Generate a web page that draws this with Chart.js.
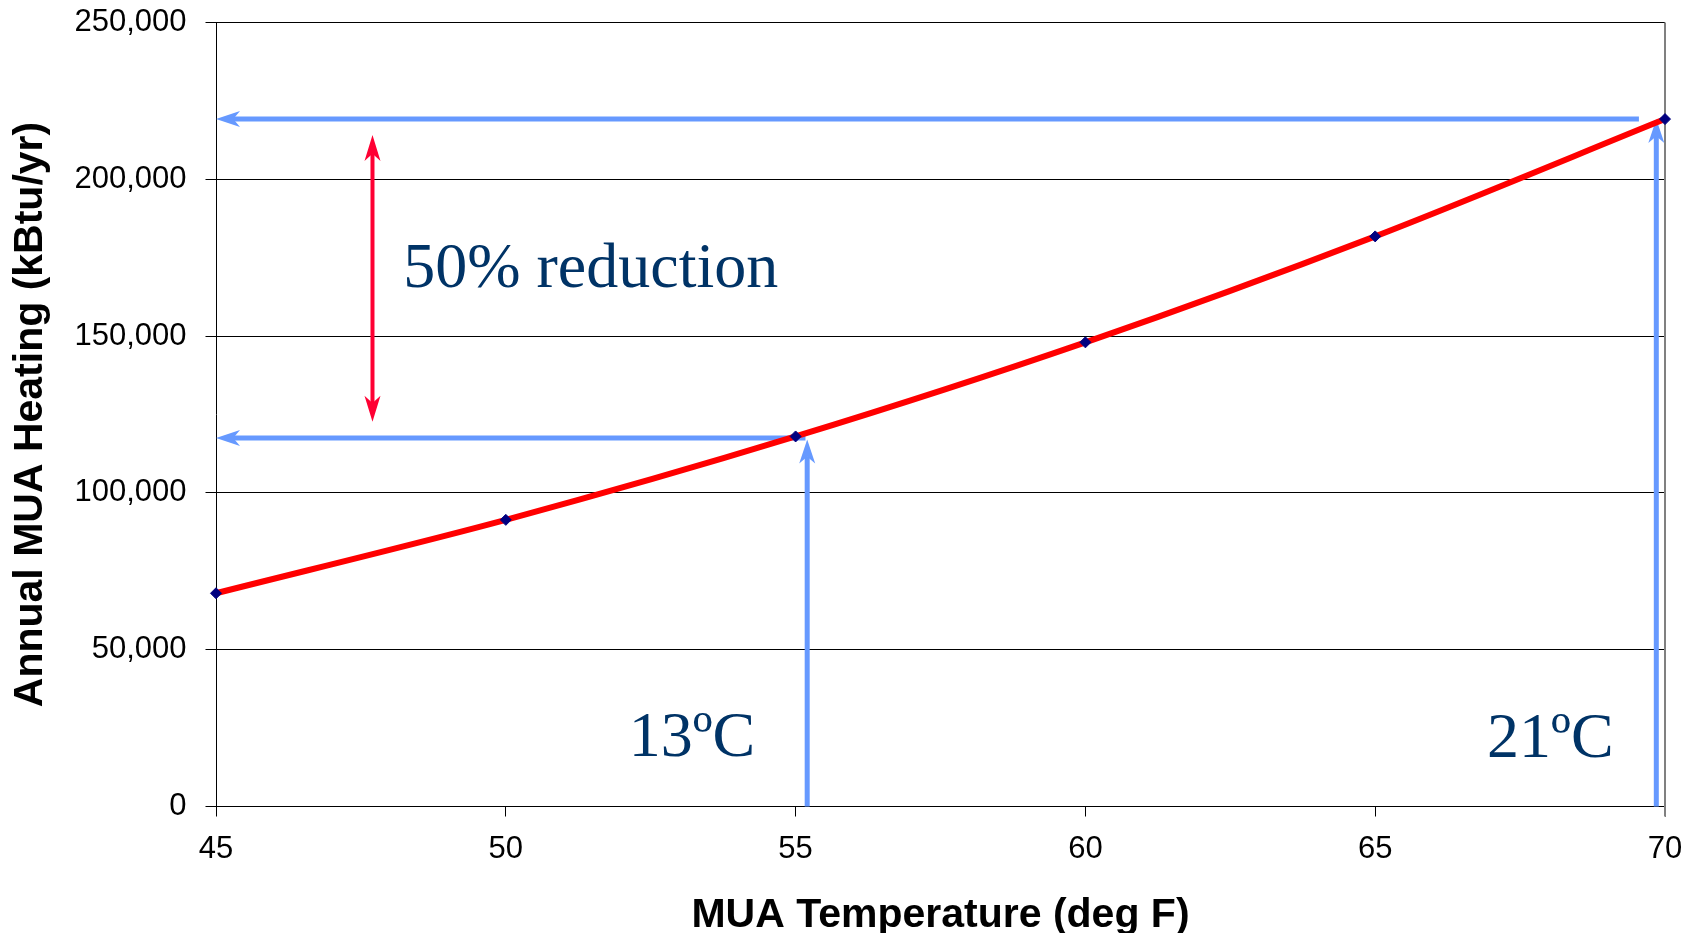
<!DOCTYPE html>
<html>
<head>
<meta charset="utf-8">
<title>Annual MUA Heating vs MUA Temperature</title>
<script src="https://cdn.jsdelivr.net/npm/chart.js@4.4.1/dist/chart.umd.min.js"></script>
<style>
  html, body { margin: 0; padding: 0; background: #ffffff; }
  #wrap { width: 1696px; height: 933px; }
</style>
</head>
<body>
<div id="wrap"><canvas id="chart" width="1696" height="933"></canvas></div>
<script>
// MUA supply temperature (deg F) and resulting annual heating (kBtu/yr)
const temperatures = [45, 50, 55, 60, 65, 70];
const annualHeating = [68000, 91400, 118000, 148000, 181800, 219200];

// axis ticks
const xTickValues = [45, 50, 55, 60, 65, 70];
const yTickValues = [0, 50000, 100000, 150000, 200000, 250000];

// guide arrows in axis units: [x1, y1, x2, y2], head drawn at (x2, y2)
const blueArrows = [
  [69.55, 219200, 45, 219200],
  [55.17, 117500, 45, 117500],
  [55.2, 0, 55.2, 117000],
  [69.85, 0, 69.85, 219200]
];
// double-headed arrow marking the reduction
const reductionArrow = [47.7, 122700, 47.7, 214100];

// callout texts and their left/baseline anchors in axis units
const noteTexts = ['50% reduction', '13ºC', '21ºC'];
const noteAnchors = [[48.23, 165750], [52.12, 16100], [66.93, 15900]];

const SANS = '"Liberation Sans", Arial, Helvetica, sans-serif';
const SERIF = '"Liberation Serif", "Times New Roman", Times, serif';
const GUIDE_BLUE = '#6699FF';
const GUIDE_RED = '#FF0033';
const NOTE_NAVY = '#003366';

function headShape(ctx, x, y, angle, len, half, color) {
  ctx.save();
  ctx.translate(x, y);
  ctx.rotate(angle);
  ctx.beginPath();
  ctx.moveTo(0, 0);
  ctx.lineTo(-len, half);
  ctx.lineTo(-len * 0.72, 0);
  ctx.lineTo(-len, -half);
  ctx.closePath();
  ctx.fillStyle = color;
  ctx.fill();
  ctx.restore();
}

function drawArrow(ctx, p1, p2, style, bothEnds) {
  const ang = Math.atan2(p2.y - p1.y, p2.x - p1.x);
  const ux = Math.cos(ang), uy = Math.sin(ang);
  const inset = style.len * 0.7;
  const sx1 = bothEnds ? p1.x + ux * inset : p1.x;
  const sy1 = bothEnds ? p1.y + uy * inset : p1.y;
  ctx.save();
  ctx.beginPath();
  ctx.moveTo(sx1, sy1);
  ctx.lineTo(p2.x - ux * inset, p2.y - uy * inset);
  ctx.strokeStyle = style.color;
  ctx.lineWidth = style.width;
  ctx.lineCap = 'butt';
  ctx.stroke();
  ctx.restore();
  headShape(ctx, p2.x, p2.y, ang, style.len, style.half, style.color);
  if (bothEnds) headShape(ctx, p1.x, p1.y, ang + Math.PI, style.len, style.half, style.color);
}

const guidePlugin = {
  id: 'guides',
  beforeDatasetsDraw(chart) {
    const { ctx, chartArea, scales: { x, y } } = chart;
    // plot-area frame on the right side
    ctx.save();
    ctx.strokeStyle = '#808080';
    ctx.lineWidth = 2;
    ctx.beginPath();
    ctx.moveTo(chartArea.right, chartArea.top);
    ctx.lineTo(chartArea.right, chartArea.bottom + 10);
    ctx.stroke();
    ctx.restore();

    const blueStyle = { color: GUIDE_BLUE, width: 5, len: 24, half: 8 };
    blueArrows.forEach(a => {
      drawArrow(ctx,
        { x: x.getPixelForValue(a[0]), y: y.getPixelForValue(a[1]) },
        { x: x.getPixelForValue(a[2]), y: y.getPixelForValue(a[3]) },
        blueStyle, false);
    });
  },
  afterDatasetsDraw(chart) {
    const { ctx, scales: { x, y } } = chart;
    const a = reductionArrow;
    drawArrow(ctx,
      { x: x.getPixelForValue(a[0]), y: y.getPixelForValue(a[1]) },
      { x: x.getPixelForValue(a[2]), y: y.getPixelForValue(a[3]) },
      { color: GUIDE_RED, width: 4, len: 26, half: 8 }, true);

    ctx.save();
    ctx.fillStyle = NOTE_NAVY;
    ctx.textAlign = 'left';
    ctx.textBaseline = 'alphabetic';
    ctx.font = '64px ' + SERIF;
    noteTexts.forEach((t, i) => {
      ctx.fillText(t, x.getPixelForValue(noteAnchors[i][0]), y.getPixelForValue(noteAnchors[i][1]));
    });
    ctx.restore();
  }
};

new Chart(document.getElementById('chart').getContext('2d'), {
  type: 'line',
  data: {
    datasets: [{
      data: temperatures.map((t, i) => ({ x: t, y: annualHeating[i] })),
      borderColor: '#FF0000',
      borderWidth: 6,
      tension: 0.3,
      pointStyle: 'rectRot',
      pointRadius: 5.5,
      pointBackgroundColor: '#000080',
      pointBorderColor: '#000080',
      pointBorderWidth: 1,
      clip: false
    }]
  },
  options: {
    responsive: false,
    animation: false,
    devicePixelRatio: 1,
    layout: { padding: { top: 22.5, right: 31, bottom: 0, left: 0 } },
    plugins: { legend: { display: false }, tooltip: { enabled: false } },
    scales: {
      x: {
        type: 'linear',
        min: 45,
        max: 70,
        afterBuildTicks: s => { s.ticks = xTickValues.map(v => ({ value: v })); },
        ticks: { font: { family: SANS, size: 31 }, color: '#000', padding: 14, maxRotation: 0, autoSkip: false },
        grid: { drawOnChartArea: false, drawTicks: true, tickLength: 10, color: '#000', lineWidth: 1 },
        border: { color: '#000', width: 1 },
        title: {
          display: true,
          text: 'MUA Temperature (deg F)',
          color: '#000',
          font: { family: SANS, size: 41, weight: 'bold', lineHeight: 0.85 },
          padding: { top: 0, bottom: 0 }
        },
        afterFit: s => { s.height = 126.5; s.paddingLeft = 0; s.paddingRight = 0; }
      },
      y: {
        min: 0,
        max: 250000,
        afterBuildTicks: s => { s.ticks = yTickValues.map(v => ({ value: v })); },
        ticks: {
          font: { family: SANS, size: 31 },
          color: '#000',
          padding: 19,
          callback: v => Number(v).toLocaleString('en-US')
        },
        grid: { color: '#000', lineWidth: 1, tickLength: 10.5 },
        border: { color: '#000', width: 1 },
        title: {
          display: true,
          text: 'Annual MUA Heating (kBtu/yr)',
          color: '#000',
          font: { family: SANS, size: 41, weight: 'bold' },
          padding: { top: 6, bottom: 0 }
        },
        afterFit: s => { s.width = 216; s.paddingTop = 0; s.paddingBottom = 0; }
      }
    }
  },
  plugins: [guidePlugin]
});
</script>
</body>
</html>
